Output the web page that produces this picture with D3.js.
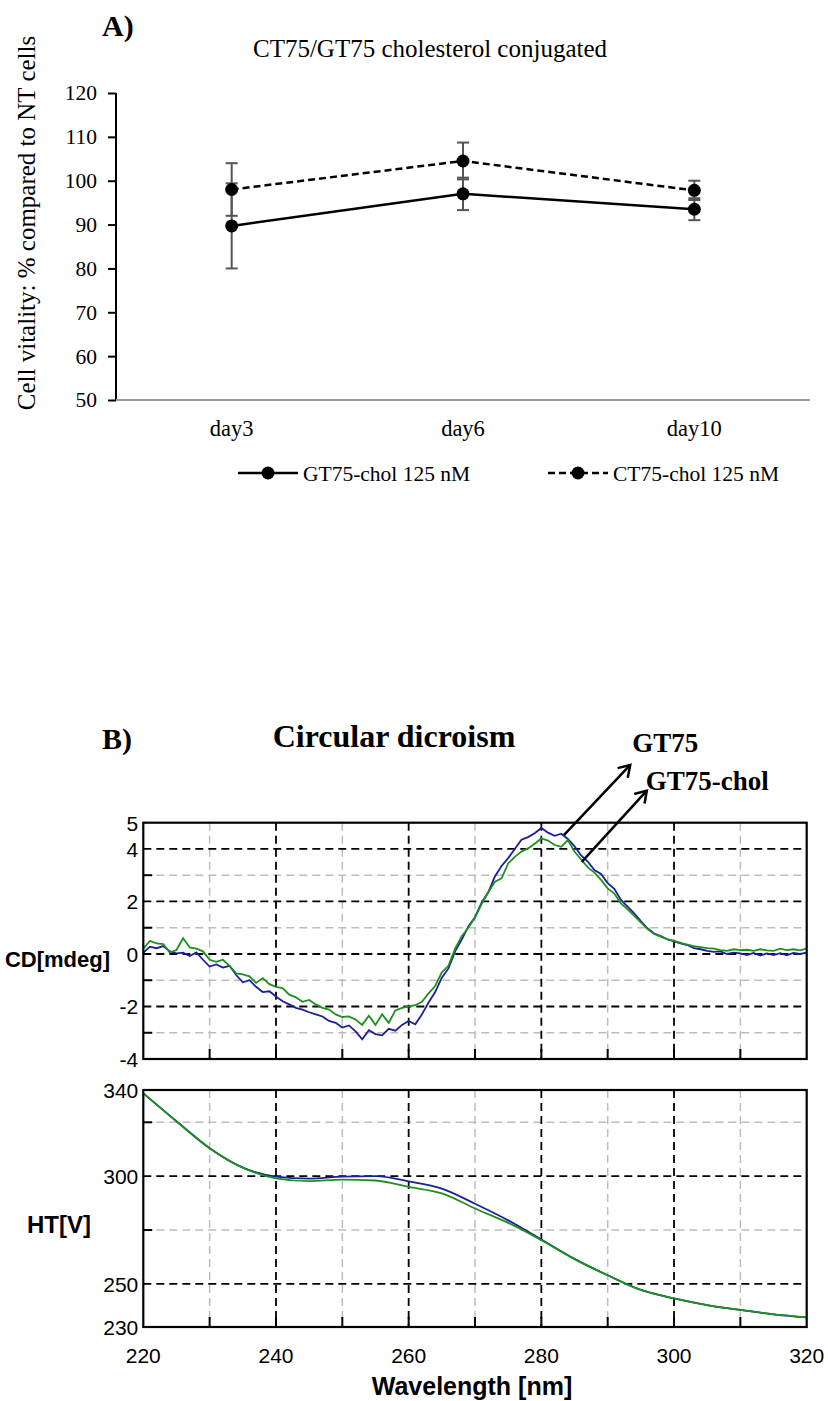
<!DOCTYPE html>
<html>
<head>
<meta charset="utf-8">
<script src="https://cdn.jsdelivr.net/npm/d3@7"></script>
<style>
  body { margin: 0; background: #fff; }
  svg { display: block; }
</style>
</head>
<body>
<svg id="chart" width="828" height="1401"></svg>
<script>
// panel A - cell vitality
var days = ["day3", "day6", "day10"];
var gtChol = [89.7, 97.0, 93.5];
var gtCholErr = [9.7, 3.7, 2.5];
var ctChol = [98.0, 104.5, 97.8];
var ctCholErr = [6.0, 4.2, 2.2];
var vitalityTicks = [50, 60, 70, 80, 90, 100, 110, 120];
var seriesNames = ["GT75-chol 125 nM", "CT75-chol 125 nM"];

// panel B - circular dichroism, one value per nm from 220 to 320
var wavelengths = d3.range(220, 321);
var cdGT75 = [
  0.05, 0.28, 0.22, 0.30, 0.10, 0.02, 0.05, -0.08, 0.06, -0.22,
  -0.48, -0.40, -0.52, -0.45, -0.80, -1.08, -1.00, -1.25, -1.45, -1.42,
  -1.62, -1.80, -1.92, -2.05, -2.12, -2.22, -2.30, -2.38, -2.55, -2.62,
  -2.80, -2.72, -2.95, -3.25, -2.90, -3.05, -3.10, -2.85, -2.92, -2.70,
  -2.55, -2.68, -2.30, -1.85, -1.45, -0.90, -0.55, 0.10, 0.55, 1.05,
  1.40, 1.95, 2.35, 2.95, 3.35, 3.65, 4.00, 4.35, 4.45, 4.60,
  4.80, 4.62, 4.50, 4.58, 4.38, 4.10, 3.75, 3.52, 3.20, 3.05,
  2.70, 2.48, 2.06, 1.80, 1.55, 1.25, 0.98, 0.78, 0.68, 0.56,
  0.48, 0.40, 0.34, 0.22, 0.18, 0.12, 0.08, 0.10, 0.00, 0.05,
  0.02, -0.04, 0.04, -0.06, 0.02, -0.04, 0.03, -0.05, 0.04, 0.00,
  0.05
];
var cdGT75chol = [
  0.20, 0.50, 0.40, 0.38, 0.05, 0.15, 0.60, 0.25, 0.20, 0.10,
  -0.22, -0.30, -0.22, -0.45, -0.74, -0.78, -0.85, -1.10, -0.92, -1.15,
  -1.25, -1.30, -1.55, -1.65, -1.82, -1.75, -1.92, -2.05, -2.12, -2.30,
  -2.40, -2.38, -2.50, -2.70, -2.35, -2.70, -2.30, -2.62, -2.15, -2.05,
  -2.00, -1.95, -1.82, -1.50, -1.22, -0.70, -0.45, 0.20, 0.68, 1.00,
  1.40, 1.90, 2.35, 2.75, 2.88, 3.45, 3.70, 3.90, 4.02, 4.20,
  4.40, 4.32, 4.15, 4.08, 4.34, 3.90, 3.60, 3.30, 3.10, 2.82,
  2.50, 2.30, 1.93, 1.70, 1.45, 1.20, 0.95, 0.76, 0.66, 0.56,
  0.50, 0.42, 0.36, 0.30, 0.26, 0.22, 0.20, 0.15, 0.12, 0.18,
  0.15, 0.16, 0.12, 0.18, 0.14, 0.12, 0.20, 0.15, 0.18, 0.14,
  0.20
];
// HT voltage, every 5 nm
var htWavelengths = d3.range(220, 321, 5);
var htGT75 = [338.5, 325.5, 313.0, 304.0, 299.8, 298.9, 299.8, 300.0, 297.6, 294.2,
  287.2, 279.5, 270.6, 261.6, 254.0, 247.2, 243.3, 240.2, 237.9, 235.9, 234.5];
var htGT75chol = [338.5, 325.5, 313.0, 304.0, 299.0, 297.7, 298.4, 298.0, 295.0, 292.0,
  285.0, 278.3, 270.3, 261.5, 254.0, 247.2, 243.3, 240.2, 237.9, 235.9, 234.5];

var cdTickLabels = [5, 4, 2, 0, -2, -4];
var cdMajor = [4, 2, 0, -2];
var cdMinor = [3, 1, -1, -3];
var htTickLabels = [340, 300, 250, 230];
var htMajor = [300, 250];
var htMinor = [325, 275];
var wlMajor = [240, 260, 280, 300];
var wlMinor = [230, 250, 270, 290, 310];
var wlTicks = [220, 240, 260, 280, 300, 320];

var serif = "'Liberation Serif', 'Times New Roman', serif";
var sans = "'Liberation Sans', Arial, sans-serif";

var svg = d3.select("#chart");

// ---------- panel A ----------
var x = d3.scaleBand().domain(days).range([116, 810]);
var cx = function (d) { return x(d) + x.bandwidth() / 2; };
var y = d3.scaleLinear().domain([50, 120]).range([400, 93]);

svg.append("text").attr("x", 102).attr("y", 36)
  .style("font-family", serif).style("font-weight", "bold").style("font-size", "30px")
  .text("A)");
svg.append("text").attr("x", 430).attr("y", 57).attr("text-anchor", "middle")
  .style("font-family", serif).style("font-size", "25px")
  .text("CT75/GT75 cholesterol conjugated");
svg.append("text").attr("transform", "translate(35,223) rotate(-90)").attr("text-anchor", "middle")
  .style("font-family", serif).style("font-size", "25px")
  .text("Cell vitality: % compared to NT cells");

var yAxis = svg.append("g").attr("transform", "translate(116,0)")
  .call(d3.axisLeft(y).tickValues(vitalityTicks).tickSize(8).tickPadding(11));
yAxis.select(".domain").attr("stroke", "#000").attr("stroke-width", 2).attr("d", "M0," + y(120) + "V" + y(50));
yAxis.selectAll(".tick line").attr("stroke", "#000").attr("stroke-width", 2);
yAxis.selectAll(".tick text").style("font-family", serif).style("font-size", "21.5px").attr("fill", "#000");

svg.append("line").attr("x1", 116).attr("x2", 810).attr("y1", y(50)).attr("y2", y(50))
  .attr("stroke", "#9a9a9a").attr("stroke-width", 2);
svg.selectAll(".daylab").data(days).enter().append("text")
  .attr("x", cx).attr("y", 436).attr("text-anchor", "middle")
  .style("font-family", serif).style("font-size", "22.5px").text(function (d) { return d; });

var seriesA = [
  { vals: gtChol, err: gtCholErr, dash: null },
  { vals: ctChol, err: ctCholErr, dash: "7,4" }
];
var lineA = d3.line().x(function (d, i) { return cx(days[i]); }).y(function (d) { return y(d); });

seriesA.forEach(function (s) {
  var g = svg.append("g");
  s.vals.forEach(function (v, i) {
    var px = cx(days[i]);
    g.append("line").attr("x1", px).attr("x2", px).attr("y1", y(v - s.err[i])).attr("y2", y(v + s.err[i]))
      .attr("stroke", "#555").attr("stroke-width", 2);
    [v - s.err[i], v + s.err[i]].forEach(function (e) {
      g.append("line").attr("x1", px - 6).attr("x2", px + 6).attr("y1", y(e)).attr("y2", y(e))
        .attr("stroke", "#555").attr("stroke-width", 2);
    });
  });
});
seriesA.forEach(function (s) {
  svg.append("path").datum(s.vals).attr("d", lineA).attr("fill", "none")
    .attr("stroke", "#000").attr("stroke-width", 2.5).attr("stroke-dasharray", s.dash);
  svg.selectAll(null).data(s.vals).enter().append("circle")
    .attr("cx", function (d, i) { return cx(days[i]); }).attr("cy", y).attr("r", 6.5).attr("fill", "#000");
});

// legend
var legX = [238, 548];
seriesNames.forEach(function (name, i) {
  var g = svg.append("g").attr("transform", "translate(" + legX[i] + ",473)");
  g.append("line").attr("x1", 0).attr("x2", 60).attr("stroke", "#000").attr("stroke-width", 2.5)
    .attr("stroke-dasharray", seriesA[i].dash);
  g.append("circle").attr("cx", 30).attr("r", 6.5).attr("fill", "#000");
  g.append("text").attr("x", 65).attr("y", 8)
    .style("font-family", serif).style("font-size", "21.5px").text(name);
});

// ---------- panel B ----------
var xw = d3.scaleLinear().domain([220, 320]).range([143.3, 806.7]);
var yc = d3.scaleLinear().domain([-4, 5]).range([1059, 822.7]);
var yh = d3.scaleLinear().domain([230, 340]).range([1327, 1090]);

svg.append("text").attr("x", 102).attr("y", 749)
  .style("font-family", serif).style("font-weight", "bold").style("font-size", "30px").text("B)");
svg.append("text").attr("x", 394).attr("y", 747).attr("text-anchor", "middle")
  .style("font-family", serif).style("font-weight", "bold").style("font-size", "32px")
  .text("Circular dicroism");

function drawFrame(ys, major, minor, labels, yLab, labY, labSize) {
  var top = ys.range()[1], bottom = ys.range()[0];
  var g = svg.append("g");
  wlMinor.forEach(function (w) {
    g.append("line").attr("x1", xw(w)).attr("x2", xw(w)).attr("y1", top).attr("y2", bottom)
      .attr("stroke", "#bdbdbd").attr("stroke-width", 1.5).attr("stroke-dasharray", "8,5");
  });
  minor.forEach(function (v) {
    g.append("line").attr("x1", xw(220)).attr("x2", xw(320)).attr("y1", ys(v)).attr("y2", ys(v))
      .attr("stroke", "#bdbdbd").attr("stroke-width", 1.5).attr("stroke-dasharray", "8,5");
  });
  wlMajor.forEach(function (w) {
    g.append("line").attr("x1", xw(w)).attr("x2", xw(w)).attr("y1", top).attr("y2", bottom)
      .attr("stroke", "#000").attr("stroke-width", 1.8).attr("stroke-dasharray", "8,5");
  });
  major.forEach(function (v) {
    g.append("line").attr("x1", xw(220)).attr("x2", xw(320)).attr("y1", ys(v)).attr("y2", ys(v))
      .attr("stroke", "#000").attr("stroke-width", 1.8).attr("stroke-dasharray", "8,5");
  });
  // inner ticks
  wlMajor.concat(wlMinor).forEach(function (w) {
    g.append("line").attr("x1", xw(w)).attr("x2", xw(w)).attr("y1", bottom).attr("y2", bottom - 10)
      .attr("stroke", "#000").attr("stroke-width", 2);
  });
  minor.forEach(function (v) {
    g.append("line").attr("x1", xw(220)).attr("x2", xw(220) + 9).attr("y1", ys(v)).attr("y2", ys(v))
      .attr("stroke", "#000").attr("stroke-width", 2);
  });
  g.selectAll(".yl").data(labels).enter().append("text")
    .attr("x", xw(220) - 5).attr("y", function (d) { return ys(d) + 8; }).attr("text-anchor", "end")
    .style("font-family", sans).style("font-size", "21px").text(function (d) { return d; });
  g.append("text").attr("x", labY[0]).attr("y", labY[1]).attr("text-anchor", "end")
    .style("font-family", sans).style("font-weight", "bold").style("font-size", labSize).text(yLab);
  return g;
}

function drawCurves(xs, ys, a, b, scaleY, curve) {
  [[a, "#1a1f9c"], [b, "#1f8f1f"]].forEach(function (s) {
    var line = d3.line().curve(curve)
      .x(function (d, i) { return xw(xs[i]); }).y(function (d) { return scaleY(d); });
    svg.append("path").datum(s[0]).attr("d", line).attr("fill", "none")
      .attr("stroke", s[1]).attr("stroke-width", 1.8);
  });
}

drawFrame(yc, cdMajor, cdMinor, cdTickLabels, "CD[mdeg]", [110, 967], "22px");
drawCurves(wavelengths, wavelengths, cdGT75, cdGT75chol, yc, d3.curveLinear);
svg.append("rect").attr("x", xw(220)).attr("y", yc(5)).attr("width", xw(320) - xw(220))
  .attr("height", yc(-4) - yc(5)).attr("fill", "none").attr("stroke", "#000").attr("stroke-width", 2.2);

drawFrame(yh, htMajor, htMinor, htTickLabels, "HT[V]", [91, 1233], "24px");
drawCurves(htWavelengths, htWavelengths, htGT75, htGT75chol, yh, d3.curveMonotoneX);
svg.append("rect").attr("x", xw(220)).attr("y", yh(340)).attr("width", xw(320) - xw(220))
  .attr("height", yh(230) - yh(340)).attr("fill", "none").attr("stroke", "#000").attr("stroke-width", 2.2);

svg.selectAll(".xl").data(wlTicks).enter().append("text")
  .attr("x", xw).attr("y", 1363).attr("text-anchor", "middle")
  .style("font-family", sans).style("font-size", "21px").text(function (d) { return d; });
svg.append("text").attr("x", 472).attr("y", 1395).attr("text-anchor", "middle")
  .style("font-family", sans).style("font-weight", "bold").style("font-size", "25px")
  .text("Wavelength [nm]");

// arrows pointing at the peak
svg.append("defs").append("marker").attr("id", "head")
  .attr("viewBox", "-12 -8 14 16").attr("markerWidth", 14).attr("markerHeight", 16)
  .attr("markerUnits", "userSpaceOnUse").attr("orient", "auto")
  .append("path").attr("d", "M-11,-7L0,0L-11,7").attr("fill", "none")
  .attr("stroke", "#000").attr("stroke-width", 2.5);

var arrows = [
  { label: "GT75", from: [283.4, 4.53], to: [293.4, 7.2], dx: 2, dy: -13 },
  { label: "GT75-chol", from: [286.1, 3.51], to: [295.9, 6.22], dx: -1, dy: -1 }
];
arrows.forEach(function (a) {
  var x2 = xw(a.to[0]), y2 = yc(a.to[1]);
  svg.append("line").attr("x1", xw(a.from[0])).attr("y1", yc(a.from[1])).attr("x2", x2).attr("y2", y2)
    .attr("stroke", "#000").attr("stroke-width", 2.5).attr("marker-end", "url(#head)");
  svg.append("text").attr("x", x2 + a.dx).attr("y", y2 + a.dy)
    .style("font-family", serif).style("font-weight", "bold").style("font-size", "27px").text(a.label);
});
</script>
</body>
</html>
